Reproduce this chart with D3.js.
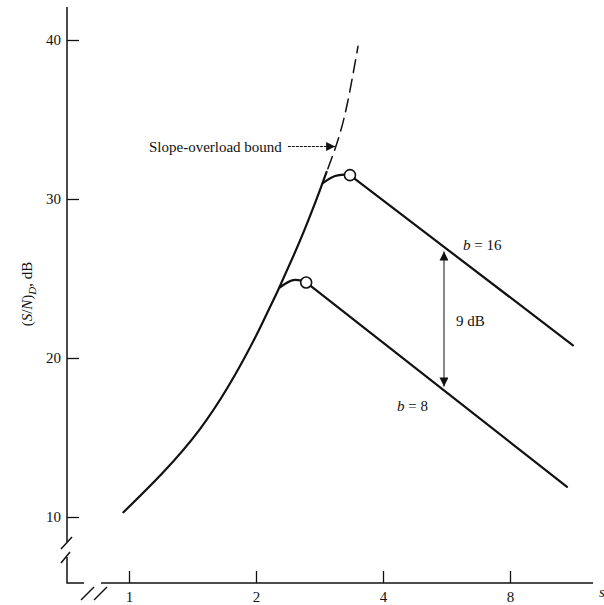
<!DOCTYPE html>
<html>
<head>
<meta charset="utf-8">
<script src="https://cdn.jsdelivr.net/npm/d3@7"></script>
<style>
	body{margin:0;background:#fff;}
	svg text{font-family:"Liberation Serif","DejaVu Serif",serif;fill:#111;}
</style>
</head>
<body>
<div id="chart"></div>
<script>
//データ
const xTicks = [1, 2, 4, 8];
const yTicks = [10, 20, 30, 40];
//slope-overload bound（実線部分と破線部分）
const boundSolid = [[0.97,10.3],[1.47,15.5],[2.045,21.9],[2.6,28.0],[2.94,31.7]];
const boundDashed = [[2.96,31.9],[3.11,33.5],[3.28,35.8],[3.49,39.6]];
//曲線の肩
const capB16 = [[2.88,31.0],[3.08,31.45],[3.34,31.55]];
const capB8 = [[2.28,24.45],[2.45,24.9],[2.63,24.8]];
//granular部分（直線）
const lineB16 = [[3.34,31.5],[11.28,20.8]];
const lineB8 = [[2.63,24.75],[10.92,11.9]];
const peaks = [[3.34,31.5],[2.63,24.75]];
const gapArrow = [[5.58,26.7],[5.58,18.2]];
const boundArrow = [[2.38,33.3],[3.08,33.3]];

const width = 604, height = 605;

const svg = d3.select("#chart").append("svg")
	.attr("width", width)
	.attr("height", height);

const x = d3.scaleLog().base(2).domain([1, 8]).range([129, 510]);
const y = d3.scaleLinear().domain([10, 40]).range([517, 40]);

const axisX0 = 67, axisY0 = 583;

//矢印マーカー
const defs = svg.append("defs");
defs.append("marker")
	.attr("id", "head")
	.attr("viewBox", "0 0 10 10")
	.attr("refX", 10).attr("refY", 5)
	.attr("markerWidth", 11).attr("markerHeight", 9)
	.attr("markerUnits", "userSpaceOnUse")
	.attr("orient", "auto-start-reverse")
	.append("path")
	.attr("d", "M0,0L10,5L0,10Z")
	.attr("fill", "#111");

//軸（途中に省略記号あり）
const axisG = svg.append("g").attr("stroke", "#111").attr("stroke-width", 1.5).attr("fill", "none");
axisG.append("path").attr("d", `M${axisX0},7V542`);
axisG.append("path").attr("d", "M61,549L72,537");
axisG.append("path").attr("d", "M61,563L70,552");
axisG.append("path").attr("d", `M${axisX0},557V${axisY0}H84`);
axisG.append("path").attr("d", "M81,600L94,587");
axisG.append("path").attr("d", "M94,600L107,587");
axisG.append("path").attr("d", `M101,${axisY0}H593`);

//目盛り
const yAxis = d3.axisLeft(y).tickValues(yTicks).tickSize(-12).tickPadding(6).tickFormat(d3.format("d"));
const gy = svg.append("g").attr("transform", `translate(${axisX0},0)`).call(yAxis);
gy.select(".domain").remove();
gy.selectAll(".tick line").attr("stroke", "#111").attr("stroke-width", 1.3);
gy.selectAll(".tick text").attr("font-size", 15).attr("font-family", "Liberation Serif").attr("fill", "#111");

const xAxis = d3.axisBottom(x).tickValues(xTicks).tickSize(-12).tickPadding(8).tickFormat(d3.format("d"));
const gx = svg.append("g").attr("transform", `translate(0,${axisY0})`).call(xAxis);
gx.select(".domain").remove();
gx.selectAll(".tick line").attr("stroke", "#111").attr("stroke-width", 1.3);
gx.selectAll(".tick text").attr("font-size", 15).attr("font-family", "Liberation Serif").attr("fill", "#111");

//軸ラベル
svg.append("text")
	.attr("x", 599).attr("y", 597)
	.attr("font-size", 15).attr("font-style", "italic")
	.text("s");

const yl = svg.append("text")
	.attr("transform", "translate(32,294) rotate(-90)")
	.attr("text-anchor", "middle")
	.attr("font-size", 15);
yl.append("tspan").text("(");
yl.append("tspan").attr("font-style", "italic").text("S");
yl.append("tspan").text("/");
yl.append("tspan").attr("font-style", "italic").text("N");
yl.append("tspan").text(")");
yl.append("tspan").attr("font-style", "italic").attr("font-size", 11).attr("dy", 4).text("D");
yl.append("tspan").attr("dy", -4).text(", dB");

//曲線
const line = d3.line().x(d => x(d[0])).y(d => y(d[1]));
const smooth = d3.line().x(d => x(d[0])).y(d => y(d[1])).curve(d3.curveNatural);
const curve = d3.line().x(d => x(d[0])).y(d => y(d[1])).curve(d3.curveCatmullRom);

const plot = svg.append("g").attr("fill", "none").attr("stroke", "#111").attr("stroke-linecap", "round");
plot.append("path").attr("d", smooth(boundSolid)).attr("stroke-width", 2.2);
plot.append("path").attr("d", smooth(boundDashed)).attr("stroke-width", 1.5).attr("stroke-dasharray", "13,7");
plot.append("path").attr("d", curve(capB16)).attr("stroke-width", 2.2);
plot.append("path").attr("d", curve(capB8)).attr("stroke-width", 2.2);
plot.append("path").attr("d", line(lineB16)).attr("stroke-width", 2.2);
plot.append("path").attr("d", line(lineB8)).attr("stroke-width", 2.2);

svg.selectAll(".peak")
	.data(peaks)
	.enter()
	.append("circle")
	.attr("class", "peak")
	.attr("cx", d => x(d[0]))
	.attr("cy", d => y(d[1]))
	.attr("r", 5.5)
	.attr("fill", "#fff")
	.attr("stroke", "#111")
	.attr("stroke-width", 1.6);

//矢印
svg.append("path")
	.attr("d", line(gapArrow))
	.attr("stroke", "#111").attr("stroke-width", 1).attr("fill", "none")
	.attr("marker-start", "url(#head)")
	.attr("marker-end", "url(#head)");
svg.append("path")
	.attr("d", line(boundArrow))
	.attr("stroke", "#111").attr("stroke-width", 1).attr("stroke-dasharray", "3,1").attr("fill", "none")
	.attr("marker-end", "url(#head)");

//注記
svg.append("text")
	.attr("x", x(boundArrow[0][0]) - 6).attr("y", y(boundArrow[0][1]) + 5)
	.attr("text-anchor", "end").attr("font-size", 15)
	.text("Slope-overload bound");

svg.append("text")
	.attr("x", 456).attr("y", 326)
	.attr("font-size", 15)
	.text("9 dB");

const t16 = svg.append("text").attr("x", 463).attr("y", 250).attr("font-size", 15);
t16.append("tspan").attr("font-style", "italic").text("b");
t16.append("tspan").text(" = 16");

const t8 = svg.append("text").attr("x", 397).attr("y", 411).attr("font-size", 15);
t8.append("tspan").attr("font-style", "italic").text("b");
t8.append("tspan").text(" = 8");
</script>
</body>
</html>
